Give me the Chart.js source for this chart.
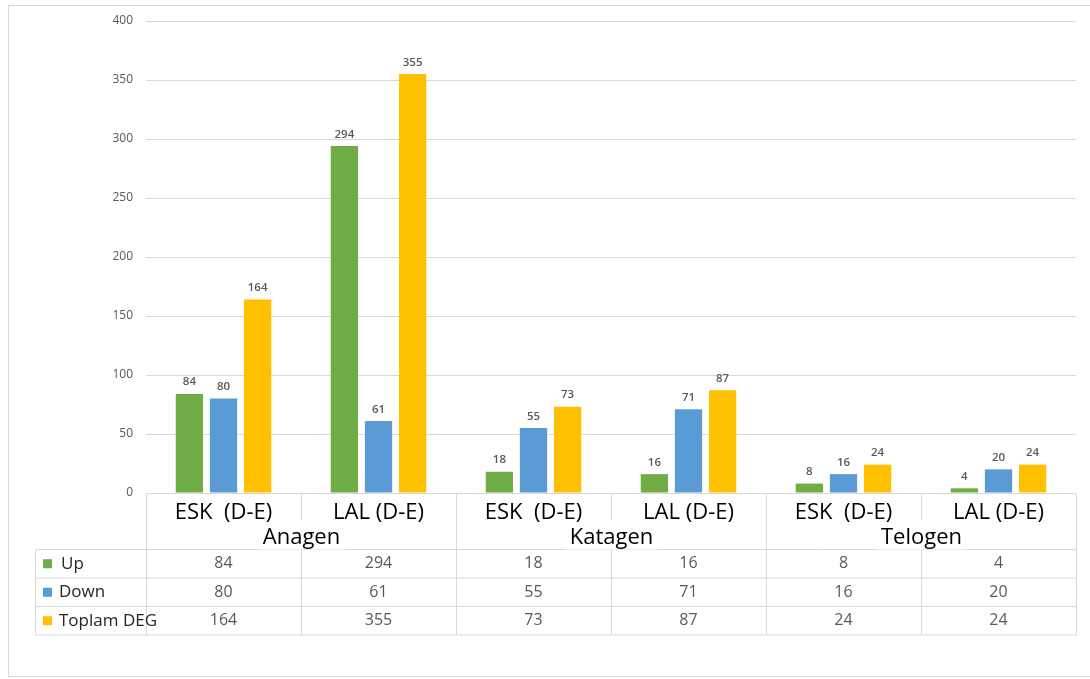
<!DOCTYPE html>
<html>
<head>
<meta charset="utf-8">
<script src="https://cdn.jsdelivr.net/npm/chart.js@4.4.1/dist/chart.umd.min.js"></script>
<style>
  html, body { margin: 0; padding: 0; background: #fff; }
  #wrap { width: 1090px; height: 679px; position: relative; }
</style>
</head>
<body>
<div id="wrap"><canvas id="chart" width="1090" height="679"></canvas></div>
<script>
// data
const categories = ['ESK  (D-E)', 'LAL (D-E)', 'ESK  (D-E)', 'LAL (D-E)', 'ESK  (D-E)', 'LAL (D-E)'];
const groups = ['Anagen', 'Katagen', 'Telogen'];
const seriesNames = ['Up', 'Down', 'Toplam DEG'];
const upValues = [84, 294, 18, 16, 8, 4];
const downValues = [80, 61, 55, 71, 16, 20];
const totalValues = [164, 355, 73, 87, 24, 24];
const yTicks = [0, 50, 100, 150, 200, 250, 300, 350, 400];

const colors = ['#70ad47', '#5b9bd5', '#ffc000'];
const gridColor = '#d9d9d9';
const font = '"Open Sans", "Noto Sans", sans-serif';

// data labels above each bar
const barLabels = {
    id: 'barLabels',
    afterDatasetsDraw(chart) {
        const ctx = chart.ctx;
        ctx.save();
        ctx.font = '600 11.5px ' + font;
        ctx.fillStyle = '#595959';
        ctx.textAlign = 'center';
        ctx.textBaseline = 'bottom';
        chart.data.datasets.forEach((ds, di) => {
            chart.getDatasetMeta(di).data.forEach((bar, i) => {
                ctx.fillText(ds.data[i], bar.x, bar.y - 6);
            });
        });
        ctx.restore();
    }
};

// excel style data table under the plot
const dataTable = {
    id: 'dataTable',
    afterDraw(chart) {
        const ctx = chart.ctx;
        const area = chart.chartArea;
        const xs = chart.scales.x;
        const colW = area.width / categories.length;
        const top = Math.round(area.bottom) + 0.5;
        const rowTop = 549.5;
        const rowH = 28.5;
        const tableLeft = 35.5;
        const right = Math.round(area.right) + 0.5;
        const bottom = rowTop + rowH * 3;
        const colX = i => Math.round(area.left + i * colW) + 0.5;

        ctx.save();
        // outer frame
        ctx.strokeStyle = gridColor;
        ctx.lineWidth = 1;
        ctx.strokeRect(8.5, 5.5, 1100, 671);

        ctx.beginPath();
        ctx.moveTo(colX(0), top); ctx.lineTo(right, top);
        for (let r = 0; r <= 3; r++) {
            ctx.moveTo(tableLeft, rowTop + r * rowH);
            ctx.lineTo(right, rowTop + r * rowH);
        }
        ctx.moveTo(tableLeft, rowTop); ctx.lineTo(tableLeft, bottom);
        for (let i = 0; i <= categories.length; i++) {
            const x = colX(i);
            if (i % 2 === 0) {
                ctx.moveTo(x, top); ctx.lineTo(x, bottom);
            } else {
                ctx.moveTo(x, top); ctx.lineTo(x, top + 27);
                ctx.moveTo(x, rowTop); ctx.lineTo(x, bottom);
            }
        }
        ctx.stroke();

        // category labels
        ctx.fillStyle = '#000';
        ctx.textAlign = 'center';
        ctx.textBaseline = 'middle';
        ctx.font = '22px ' + font;
        categories.forEach((c, i) => {
            ctx.fillText(c, xs.getPixelForValue(i), top + 19);
        });

        // group labels with white box
        groups.forEach((g, gi) => {
            const cx = colX(gi * 2 + 1);
            const w = ctx.measureText(g).width + 8;
            ctx.fillStyle = '#fff';
            ctx.fillRect(cx - w / 2, top + 32, w, 24);
            ctx.fillStyle = '#000';
            ctx.fillText(g, cx, top + 44);
        });

        // rows
        const rows = [upValues, downValues, totalValues];
        rows.forEach((vals, r) => {
            const cy = rowTop + r * rowH + rowH / 2;
            ctx.fillStyle = colors[r];
            ctx.fillRect(43, cy - 4.5, 9, 9);
            ctx.fillStyle = '#262626';
            ctx.textAlign = 'left';
            ctx.font = '17px ' + font;
            ctx.fillText(seriesNames[r], r === 0 ? 61 : 59, cy);
            ctx.fillStyle = '#595959';
            ctx.textAlign = 'center';
            ctx.font = '16px ' + font;
            vals.forEach((v, i) => {
                ctx.fillText(v, xs.getPixelForValue(i), cy);
            });
        });
        ctx.restore();
    }
};

new Chart(document.getElementById('chart'), {
    type: 'bar',
    data: {
        labels: categories,
        datasets: seriesNames.map((name, i) => ({
            label: name,
            data: [upValues, downValues, totalValues][i],
            backgroundColor: colors[i],
            categoryPercentage: 0.66,
            barPercentage: 0.8
        }))
    },
    options: {
        responsive: false,
        animation: false,
        layout: {
            padding: { top: 21, right: 14, bottom: 186, left: 0 }
        },
        scales: {
            x: {
                display: false
            },
            y: {
                min: 0,
                max: 400,
                afterBuildTicks(scale) {
                    scale.ticks = yTicks.map(v => ({ value: v }));
                },
                afterFit(scale) {
                    scale.width = 146;
                },
                border: { display: false },
                grid: { color: gridColor, drawTicks: false },
                ticks: {
                    padding: 13,
                    color: '#595959',
                    font: { family: font, size: 12 }
                }
            }
        },
        plugins: {
            legend: { display: false },
            tooltip: { enabled: false }
        }
    },
    plugins: [barLabels, dataTable]
});
</script>
</body>
</html>
